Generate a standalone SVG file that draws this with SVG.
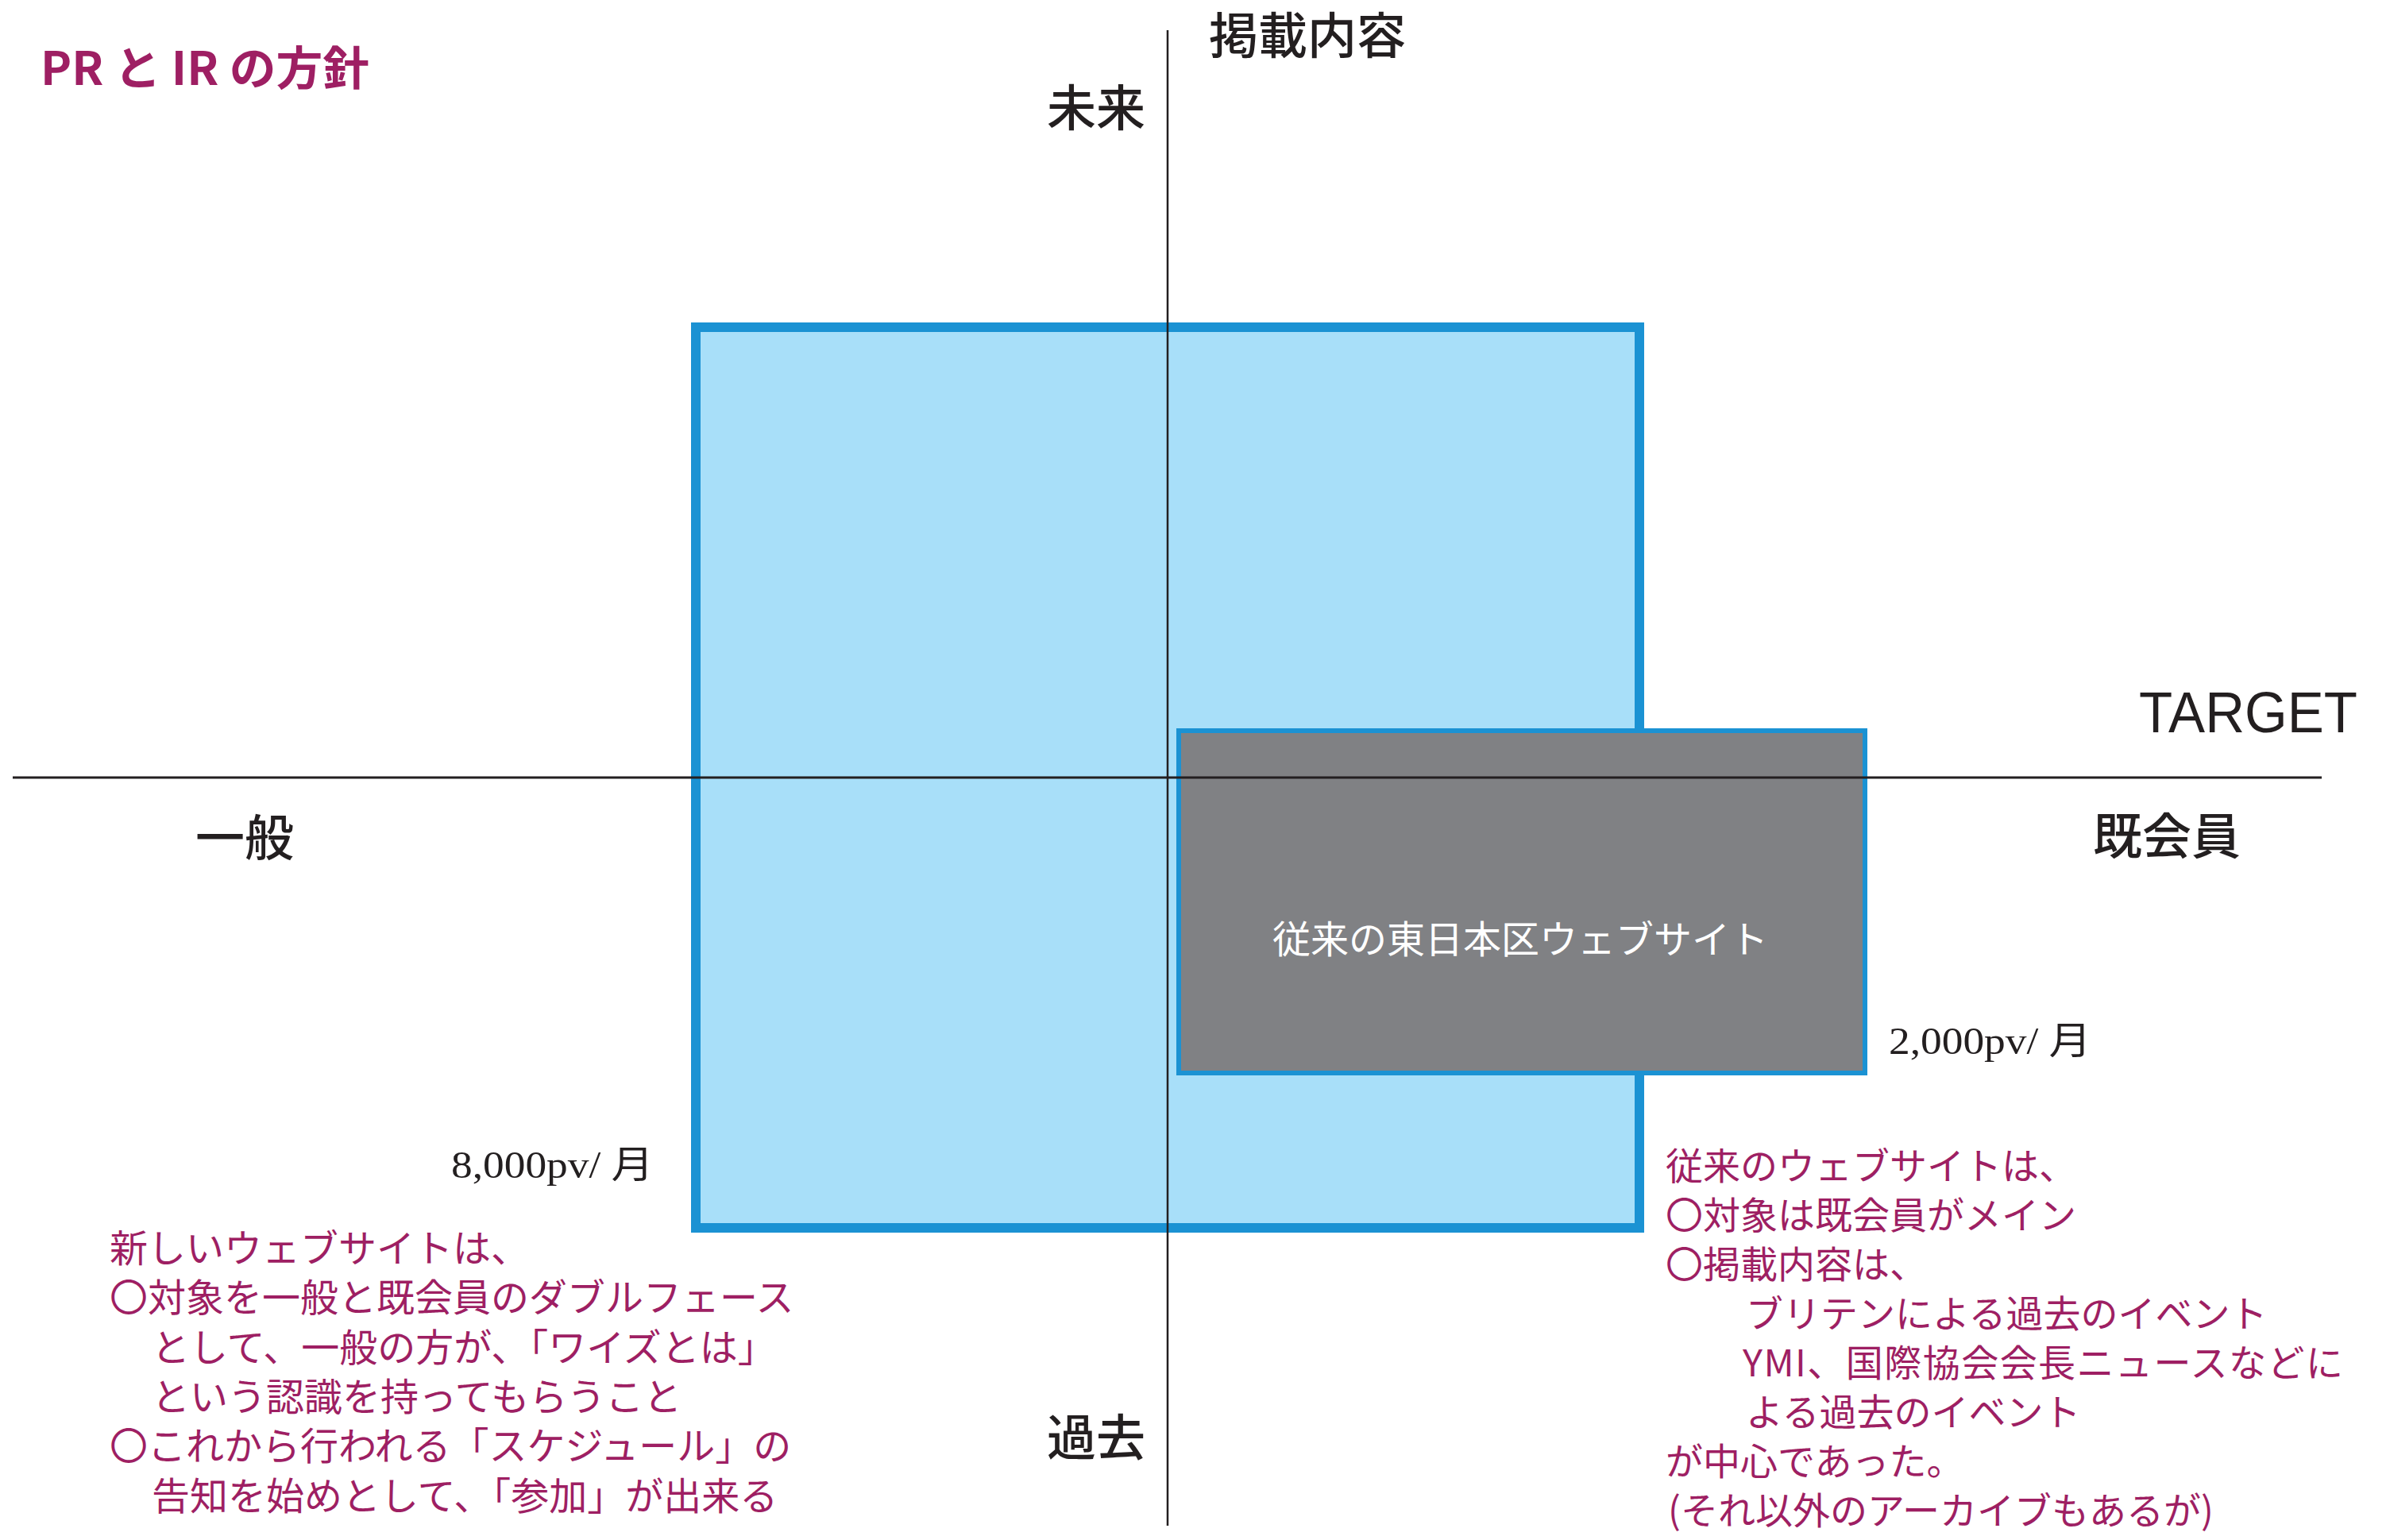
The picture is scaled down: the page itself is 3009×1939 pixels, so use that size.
<svg xmlns="http://www.w3.org/2000/svg" width="3009" height="1939" viewBox="0 0 3009 1939">
<style>
.lbl{font-family:"Noto Sans CJK JP","Noto Sans",sans-serif;font-weight:500;fill:#231f20;font-size:62px}
.note{font-family:"Noto Sans CJK JP",sans-serif;font-weight:400;fill:#9e1f63;font-size:47px}
.noteL{font-size:48px}
.pv{font-family:"Liberation Serif","Noto Sans CJK JP",serif;fill:#231f20;font-size:48px}
.axis{stroke:#231f20;fill:none}
</style>
<rect width="3009" height="1939" fill="#ffffff"/>
<g id="title">
<text x="51" y="107" font-family="'Noto Sans CJK JP',sans-serif" font-weight="700" font-size="58" fill="#9e1f63" textLength="414" lengthAdjust="spacingAndGlyphs">PR と IR の方針</text>
</g>
<g id="new-website">
<rect x="876" y="412" width="1188" height="1134" fill="#a8dff9" stroke="#1b92d3" stroke-width="12"/>
</g>
<g id="old-website">
<rect x="1484" y="920" width="864" height="431" fill="#808184" stroke="#1b92d3" stroke-width="6"/>
<text x="1914" y="1200" text-anchor="middle" font-family="'Noto Sans CJK JP',sans-serif" font-size="48" fill="#ffffff">従来の東日本区ウェブサイト</text>
</g>
<g id="axes">
<line class="axis" x1="16" y1="979" x2="2923" y2="979" stroke-width="3"/>
<line class="axis" x1="1470" y1="38" x2="1470" y2="1921" stroke-width="2.5"/>
</g>
<g id="axis-labels">
<text class="lbl" x="1646" y="68" text-anchor="middle">掲載内容</text>
<text class="lbl" x="1380" y="159" text-anchor="middle">未来</text>
<text class="lbl" x="1380" y="1833" text-anchor="middle">過去</text>
<text class="lbl" x="308" y="1078" text-anchor="middle">一般</text>
<text class="lbl" x="2728" y="1076" text-anchor="middle">既会員</text>
<text x="2693" y="922" font-family="'Liberation Sans',Arial,sans-serif" font-size="72" fill="#231f20" textLength="275" lengthAdjust="spacingAndGlyphs">TARGET</text>
</g>
<g id="pv-labels">
<text class="pv" x="568" y="1483" textLength="255" lengthAdjust="spacingAndGlyphs">8,000pv/ 月</text>
<text class="pv" x="2378" y="1327" textLength="255" lengthAdjust="spacingAndGlyphs">2,000pv/ 月</text>
</g>
<g id="note-new">
<text class="note noteL" x="138" y="1589">新しいウェブサイトは、</text>
<text class="note noteL" x="138" y="1651">〇対象を一般と既会員のダブルフェース</text>
<text class="note noteL" x="191" y="1714">として、一般の方が、「ワイズとは」</text>
<text class="note noteL" x="191" y="1776">という認識を持ってもらうこと</text>
<text class="note noteL" x="138" y="1838">〇これから行われる「スケジュール」の</text>
<text class="note noteL" x="191" y="1901">告知を始めとして、「参加」が出来る</text>
</g>
<g id="note-old">
<text class="note" x="2097" y="1485">従来のウェブサイトは、</text>
<text class="note" x="2097" y="1547">〇対象は既会員がメイン</text>
<text class="note" x="2097" y="1609">〇掲載内容は、</text>
<text class="note" x="2198" y="1671">ブリテンによる過去のイベント</text>
<text class="note" x="2194" y="1733" textLength="756" lengthAdjust="spacing">YMI、国際協会会長ニュースなどに</text>
<text class="note" x="2198" y="1795">よる過去のイベント</text>
<text class="note" x="2097" y="1857">が中心であった。</text>
<text class="note" x="2100" y="1919">(それ以外のアーカイブもあるが)</text>
</g>
</svg>
